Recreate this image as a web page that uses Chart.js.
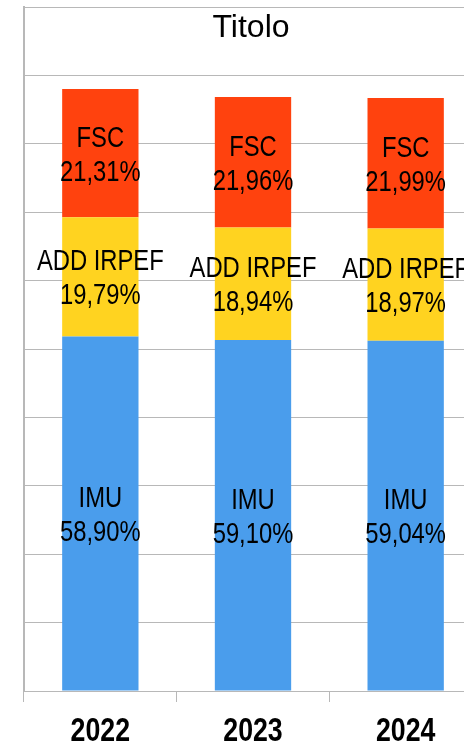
<!DOCTYPE html>
<html><head><meta charset="utf-8">
<script src="https://cdn.jsdelivr.net/npm/chart.js@4"></script>
<style>
html,body{margin:0;padding:0;overflow:hidden;background:#fff;width:464px;height:744px}
#wrap{position:absolute;left:0;top:0;width:502px;height:744px}
</style></head><body>
<div id="wrap"><canvas id="c" width="502" height="744"></canvas></div>
<script>
const categories = ['2022', '2023', '2024'];
const seriesNames = ['IMU', 'ADD IRPEF', 'FSC'];
const imu = [5.1832, 5.1322, 5.1188];
const addIrpef = [1.7415, 1.6447, 1.6447];
const fsc = [1.8753, 1.9070, 1.9065];
const chartTitle = 'Titolo';

const NARROW = 0.82;

function narrowText(ctx, text, x, y) {
  ctx.save();
  ctx.translate(x, y);
  ctx.scale(NARROW, 1);
  ctx.fillText(text, 0, 0);
  ctx.restore();
}

const labelPlugin = {
  id: 'segLabels',
  afterDatasetsDraw(chart) {
    const ctx = chart.ctx;
    const ds = chart.data.datasets;
    ctx.save();
    ctx.fillStyle = '#000';
    ctx.textAlign = 'center';
    ctx.textBaseline = 'alphabetic';
    ctx.font = '29px "Liberation Sans"';
    ds.forEach((d, i) => {
      const meta = chart.getDatasetMeta(i);
      meta.data.forEach((el, j) => {
        const total = ds.reduce((s, dd) => s + dd.data[j], 0);
        const pct = (d.data[j] / total * 100).toFixed(2).replace('.', ',') + '%';
        const cy = (el.y + el.base) / 2;
        narrowText(ctx, d.label, el.x, cy - 6.6);
        narrowText(ctx, pct, el.x, cy + 27.4);
      });
    });
    ctx.restore();
  }
};

const textPlugin = {
  id: 'texts',
  afterDraw(chart) {
    const ctx = chart.ctx;
    ctx.save();
    ctx.fillStyle = '#000';
    ctx.textAlign = 'center';
    ctx.textBaseline = 'alphabetic';
    ctx.font = '32px "Liberation Sans"';
    ctx.fillText(chartTitle, chart.width / 2, 36.7);
    ctx.font = 'bold 32.6px "Liberation Sans"';
    const xs = chart.scales.x;
    chart.data.labels.forEach((lab, i) => {
      narrowText(ctx, lab, xs.getPixelForTick(i), 740.6);
    });
    ctx.restore();
  }
};

const gridColor = '#b8b8b8';

new Chart(document.getElementById('c'), {
  type: 'bar',
  data: {
    labels: categories,
    datasets: [
      { label: seriesNames[0], data: imu, backgroundColor: '#4A9DEC' },
      { label: seriesNames[1], data: addIrpef, backgroundColor: '#FFD320' },
      { label: seriesNames[2], data: fsc, backgroundColor: '#FF420E' }
    ]
  },
  options: {
    responsive: false,
    animation: false,
    devicePixelRatio: 1,
    layout: { padding: { left: 24, right: 20, top: 7, bottom: 42 } },
    datasets: { bar: { barPercentage: 0.5, categoryPercentage: 1.0, borderWidth: 0 } },
    plugins: { legend: { display: false }, title: { display: false }, tooltip: { enabled: false } },
    scales: {
      x: {
        stacked: true,
        grid: { display: true, drawOnChartArea: false, drawTicks: true, tickLength: 11, color: gridColor, offset: true },
        border: { display: true, color: gridColor, width: 1 },
        ticks: { display: false }
      },
      y: {
        stacked: true,
        min: 0, max: 10,
        ticks: { display: false, stepSize: 1 },
        grid: { color: gridColor, drawTicks: false },
        border: { display: true, color: gridColor, width: 2 }
      }
    }
  },
  plugins: [labelPlugin, textPlugin]
});
</script>
</body></html>
